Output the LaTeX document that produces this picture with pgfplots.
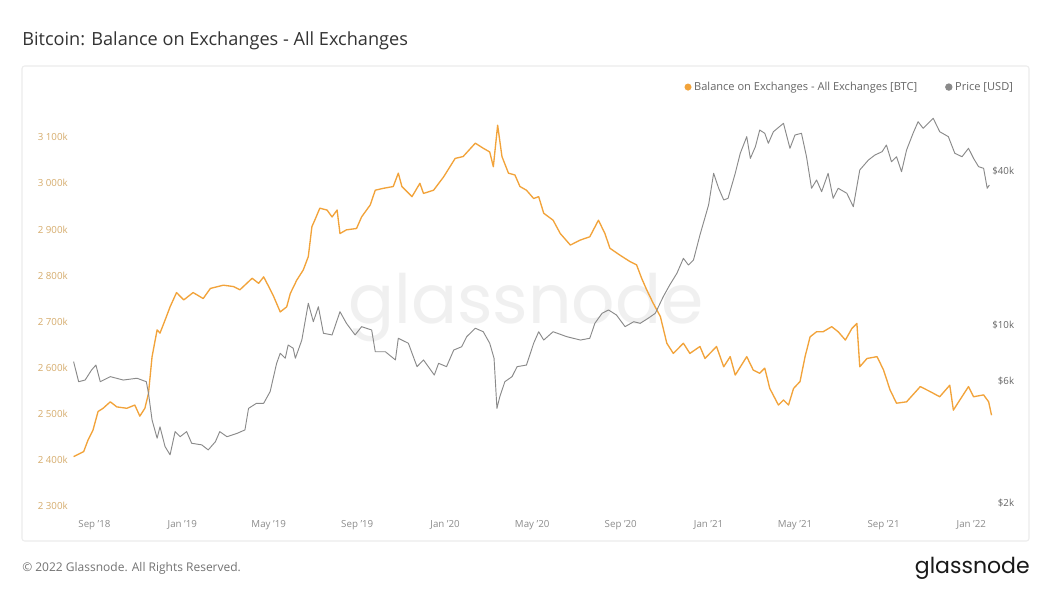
\documentclass[border=0pt]{standalone}
\usepackage{pgfplots}
\pgfplotsset{compat=1.18}
\usepackage{fontspec}
\setmainfont{Open Sans}
\newfontfamily\logofont{Poppins}

\definecolor{btc}{HTML}{F2A33A}
\definecolor{pricegray}{HTML}{8A8A8A}
\definecolor{leftlab}{HTML}{D6AC6C}
\definecolor{axlab}{HTML}{8C8C8C}
\definecolor{frame}{HTML}{ECECEC}

% x = days since 2018-09-01, balance in thousand BTC
\pgfplotstableread{
d b
-29 2407
-15 2418
-9 2443
-2 2465
5 2505
12 2512
22 2526
31 2515
45 2512
56 2519
63 2495
70 2512
75 2544
80 2624
87 2682
91 2675
98 2703
105 2732
114 2763
124 2747
137 2763
151 2750
161 2772
179 2779
193 2776
202 2769
219 2794
228 2783
235 2797
242 2776
249 2754
258 2721
267 2732
272 2761
281 2790
290 2812
297 2841
302 2906
306 2920
313 2946
323 2942
330 2927
337 2942
341 2891
350 2899
364 2902
371 2927
383 2953
390 2985
401 2989
415 2993
422 3022
427 2993
441 2971
452 3000
457 2978
471 2985
485 3014
501 3054
512 3058
529 3087
540 3076
549 3068
554 3036
560 3126
566 3058
575 3022
584 3018
591 2993
600 2985
610 2967
617 2971
624 2935
637 2920
647 2891
661 2866
675 2877
688 2884
700 2920
709 2891
716 2859
730 2844
744 2830
753 2823
760 2794
767 2769
776 2740
786 2711
795 2653
804 2631
818 2653
827 2631
841 2646
848 2620
864 2646
874 2602
883 2624
890 2584
906 2624
915 2595
924 2588
931 2599
938 2555
950 2519
957 2530
964 2519
971 2555
980 2570
987 2624
994 2667
1003 2678
1012 2678
1024 2689
1033 2678
1043 2660
1052 2685
1059 2696
1063 2602
1073 2620
1087 2624
1096 2595
1105 2552
1114 2523
1128 2526
1147 2559
1161 2548
1174 2537
1188 2562
1193 2508
1202 2530
1214 2559
1221 2537
1235 2541
1242 2526
1246 2497
}\balance

% x = days since 2018-09-01, price in USD
\pgfplotstableread{
d p
-29 7170
-22 5980
-13 6070
-4 6650
2 6950
8 5980
22 6260
40 6070
59 6170
72 5980
75 5390
80 4230
87 3590
91 3980
98 3330
105 3090
112 3810
119 3640
128 3810
135 3430
149 3380
158 3230
168 3480
174 3810
184 3640
198 3750
209 3870
214 4700
225 4920
235 4920
244 5470
253 7060
258 7730
265 7390
269 8330
276 8090
279 7390
288 8710
297 12140
304 10280
311 11770
318 9260
330 9120
341 11250
350 10130
362 9120
371 9830
385 9540
390 7840
404 7840
418 7280
422 8850
436 8460
448 6850
457 7280
472 6350
478 7060
489 6850
499 7960
510 8200
517 8980
529 9690
540 9390
549 8460
555 7390
559 4700
563 5220
570 5980
580 6260
587 6850
600 6950
610 8460
617 9390
624 8710
637 9390
656 8980
675 8710
688 8850
695 10130
705 11090
714 11430
725 10920
737 9830
749 10280
758 10130
769 10600
779 11090
790 12880
799 14320
809 15920
818 18220
825 17150
832 17950
841 22490
853 29500
860 39260
867 34300
874 30860
880 31320
890 39260
897 47040
906 54660
911 44940
918 49940
924 58020
931 56340
936 51480
943 57160
957 61660
966 49200
973 55480
982 56340
989 45600
996 34300
1003 36960
1010 33260
1019 39260
1026 31320
1033 34300
1045 32780
1054 29040
1063 40460
1075 44260
1084 46300
1094 47720
1100 50680
1107 43600
1114 45600
1121 39840
1128 48460
1137 56340
1144 62560
1151 58940
1165 64520
1174 57160
1186 54660
1195 47040
1205 45600
1214 49200
1221 44940
1228 41680
1235 41080
1240 34300
1243 35320
}\price

\pgfplotsset{
  common/.style={
    at={(52.5pt,-384pt)}, anchor=south west,
    width=693.3pt, height=301.5pt, scale only axis,
    xmin=-34, xmax=1250,
    axis line style={draw=none}, tick style={draw=none},
    clip=false,
  },
}

\begin{document}
\begin{tikzpicture}
\begin{scope}[x=0.75pt,y=-0.75pt]
\useasboundingbox[fill=white] (0,0) rectangle (1052,592);
\node[anchor=base west, inner sep=0pt, text=black!80, font=\fontsize{13.6}{16}\selectfont]
  at (22,46) {Bitcoin: Balance on Exchanges - All Exchanges};
\draw[frame, line width=0.8pt, rounded corners=2pt] (22,66) rectangle (1029,541);
% watermark
\node[anchor=base, inner sep=0pt, text=black!6, font=\logofont\fontsize{51}{56}\selectfont]
  at (526,323) {glassnode};
\end{scope}

\begin{axis}[common,
  ymin=2287, ymax=3159,
  axis x line*=bottom, axis y line*=left,
  xtick={0,122,242,365,487,608,731,853,973,1096,1218},
  xticklabels={Sep '18,Jan '19,May '19,Sep '19,Jan '20,May '20,Sep '20,Jan '21,May '21,Sep '21,Jan '22},
  xticklabel style={font=\fontsize{7.3}{9}\selectfont, text=axlab, inner sep=0pt, anchor=north, yshift=-6.5pt},
  ytick={2300,2400,2500,2600,2700,2800,2900,3000,3100},
  yticklabels={2 300k,2 400k,2 500k,2 600k,2 700k,2 800k,2 900k,3 000k,3 100k},
  yticklabel style={font=\fontsize{7.3}{9}\selectfont, text=leftlab, inner sep=0pt, anchor=east, xshift=-1.5pt},
]
\addplot[btc, line width=1pt, line join=round] table[x=d, y=b] {\balance};
\end{axis}

\begin{axis}[common,
  ymode=log, ymin=1844, ymax=69540,
  hide x axis, axis y line*=right,
  ytick={2000,6000,10000,40000},
  yticklabels={\$2k,\$6k,\$10k,\$40k},
  minor ytick={},
  yticklabel style={font=\fontsize{7.3}{9}\selectfont, text=black!60, inner sep=0pt, anchor=east, xshift=15pt},
  legend style={at={(0.6645,1.057)}, anchor=west, draw=none, fill=none, inner sep=0pt,
    font=\fontsize{8.3}{9}\selectfont, text=black!60, legend columns=2,
    /tikz/every even column/.append style={column sep=19pt}},
  legend image code/.code={\fill[#1] (2.2pt,0pt) circle (2.4pt);},
  legend cell align=left,
]
\addlegendimage{btc}
\addlegendentry{Balance on Exchanges - All Exchanges [BTC]}
\addplot[pricegray, line width=0.7pt, line join=round] table[x=d, y=p] {\price};
\addlegendentry{Price [USD]}
\end{axis}

\begin{scope}[x=0.75pt,y=-0.75pt]
\node[anchor=base west, inner sep=0pt, text=black!55, font=\fontsize{9}{11}\selectfont]
  at (22,571) {© 2022 Glassnode. All Rights Reserved.};
\node[anchor=base east, inner sep=0pt, text=black!90, font=\logofont\fontsize{16.5}{20}\selectfont]
  at (1030,573) {glassnode};
\end{scope}
\end{tikzpicture}
\end{document}
